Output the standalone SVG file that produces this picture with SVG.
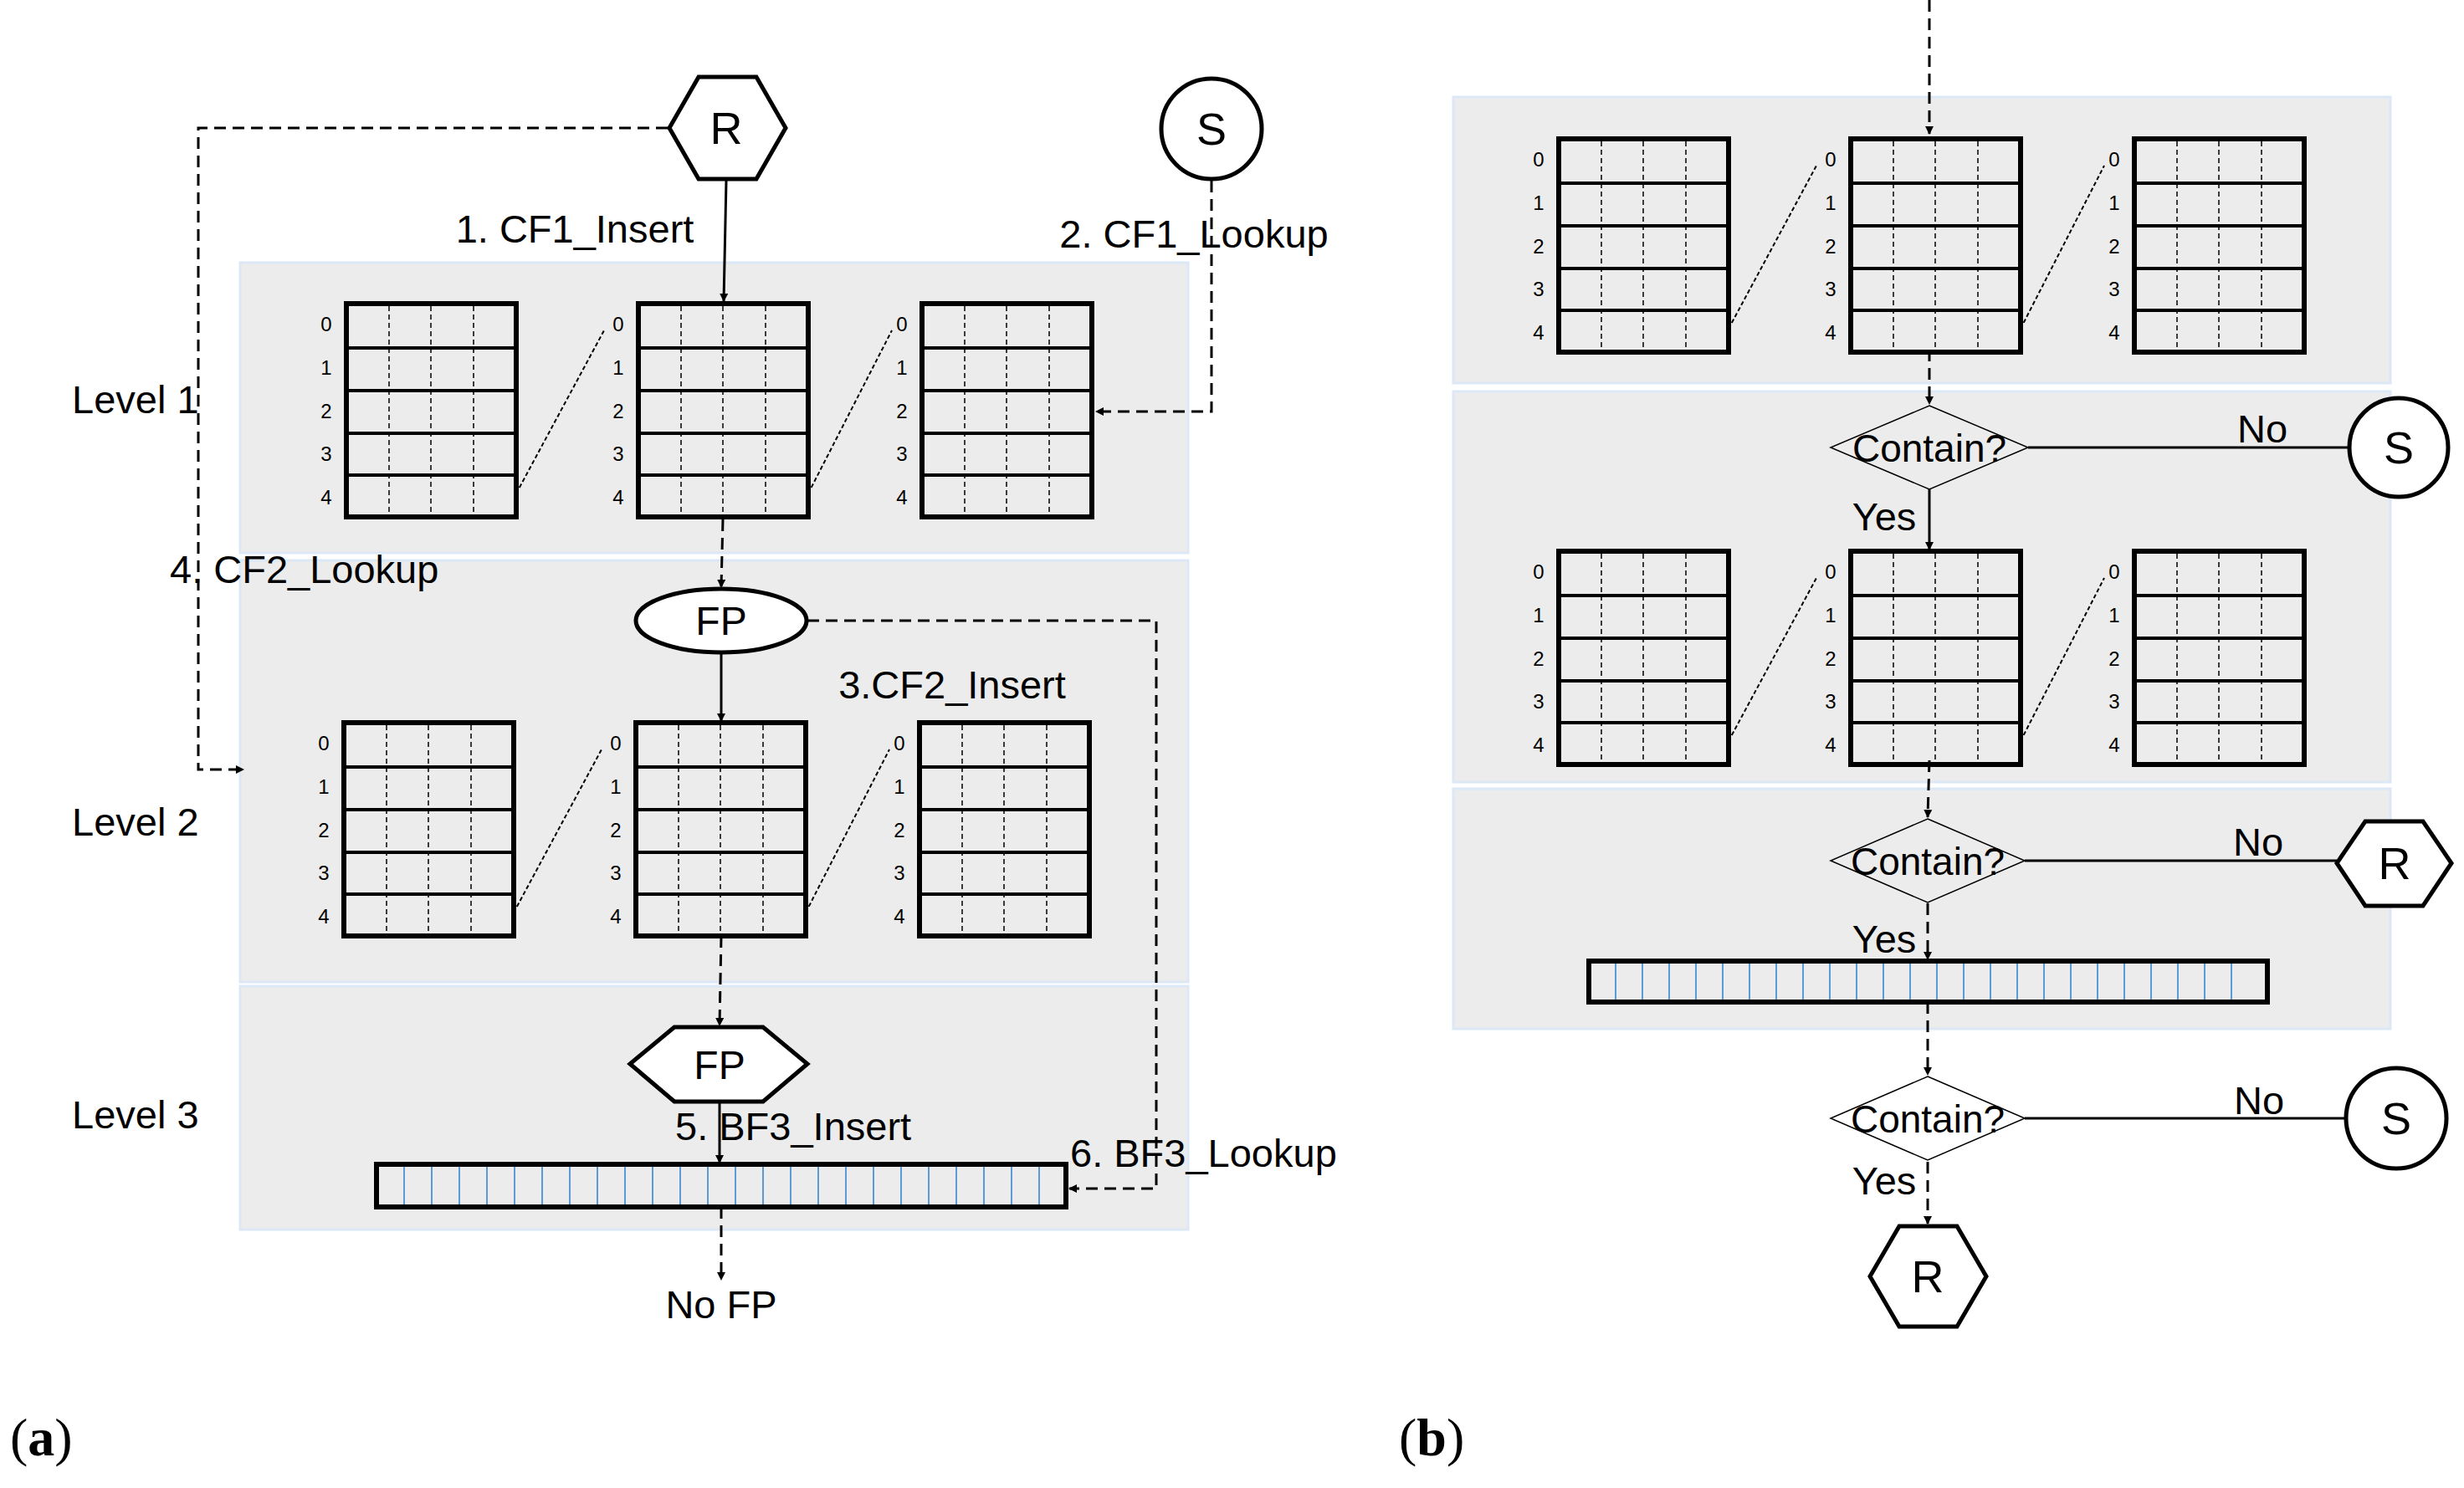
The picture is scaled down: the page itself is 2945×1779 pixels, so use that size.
<svg xmlns="http://www.w3.org/2000/svg" width="2945" height="1779" viewBox="0 0 2945 1779">
<style>
text{font-family:"Liberation Sans",Arial,sans-serif;fill:#000}
.lb{font-size:47px}
.num{font-size:24px;text-anchor:middle}
.band{fill:#ececec;stroke:#dce8f5;stroke-width:3}
.thick{fill:none;stroke:#000;stroke-width:6}
.row{stroke:#000;stroke-width:4}
.col{stroke:#000;stroke-width:1.5;stroke-dasharray:6 4}
.dot{stroke:#000;stroke-width:2;stroke-dasharray:5 3;fill:none}
.sol{stroke:#000;stroke-width:3;fill:none}
.dash{stroke:#000;stroke-width:3;fill:none;stroke-dasharray:14 8}
.bl{stroke:#5b9bd5;stroke-width:2}
.node{fill:#fff;stroke:#000;stroke-width:5}
.dia{fill:none;stroke:#000;stroke-width:1.5}
.cap{font-family:"Liberation Serif",serif;font-size:64px}
</style>
<defs>
<marker id="ah" markerWidth="10" markerHeight="10" refX="9" refY="5" orient="auto" markerUnits="userSpaceOnUse" viewBox="0 0 10 10"><path d="M0,0 L10,5 L0,10 z" fill="#000"/></marker>
<g id="tbl">
<rect x="0" y="0" width="203" height="255" class="thick"/>
<line x1="51" y1="3" x2="51" y2="255" class="col"/>
<line x1="101" y1="3" x2="101" y2="255" class="col"/>
<line x1="152" y1="3" x2="152" y2="255" class="col"/>
<line x1="0" y1="53" x2="203" y2="53" class="row"/>
<line x1="0" y1="104" x2="203" y2="104" class="row"/>
<line x1="0" y1="155" x2="203" y2="155" class="row"/>
<line x1="0" y1="205" x2="203" y2="205" class="row"/>
<text class="num" x="-24" y="33">0</text>
<text class="num" x="-24" y="85">1</text>
<text class="num" x="-24" y="137">2</text>
<text class="num" x="-24" y="188">3</text>
<text class="num" x="-24" y="240">4</text>
</g>
<g id="trio">
<use href="#tbl" x="0" y="0"/>
<use href="#tbl" x="349" y="0"/>
<use href="#tbl" x="688" y="0"/>
<line x1="203" y1="227" x2="308" y2="32" class="dot"/>
<line x1="552" y1="227" x2="652" y2="32" class="dot"/>
</g>
</defs>

<!-- bands -->
<rect class="band" x="287" y="314" width="1133" height="347"/>
<rect class="band" x="287" y="670" width="1133" height="504"/>
<rect class="band" x="287" y="1179" width="1133" height="291"/>
<rect class="band" x="1737" y="116" width="1120" height="342"/>
<rect class="band" x="1737" y="468" width="1120" height="467"/>
<rect class="band" x="1737" y="943" width="1120" height="287"/>

<!-- panel a -->
<g id="tables-a1"><use href="#trio" x="414" y="363"/></g>
<g id="tables-a2"><use href="#trio" x="411" y="864"/></g>
<g id="bf-a">
<rect x="450" y="1392" width="824" height="51" class="thick"/>
<g class="bl">
<line x1="483" y1="1395" x2="483" y2="1440"/><line x1="516" y1="1395" x2="516" y2="1440"/><line x1="549" y1="1395" x2="549" y2="1440"/><line x1="582" y1="1395" x2="582" y2="1440"/><line x1="615" y1="1395" x2="615" y2="1440"/><line x1="648" y1="1395" x2="648" y2="1440"/><line x1="681" y1="1395" x2="681" y2="1440"/><line x1="714" y1="1395" x2="714" y2="1440"/><line x1="747" y1="1395" x2="747" y2="1440"/><line x1="780" y1="1395" x2="780" y2="1440"/><line x1="813" y1="1395" x2="813" y2="1440"/><line x1="846" y1="1395" x2="846" y2="1440"/><line x1="879" y1="1395" x2="879" y2="1440"/><line x1="912" y1="1395" x2="912" y2="1440"/><line x1="945" y1="1395" x2="945" y2="1440"/><line x1="978" y1="1395" x2="978" y2="1440"/><line x1="1011" y1="1395" x2="1011" y2="1440"/><line x1="1044" y1="1395" x2="1044" y2="1440"/><line x1="1077" y1="1395" x2="1077" y2="1440"/><line x1="1110" y1="1395" x2="1110" y2="1440"/><line x1="1143" y1="1395" x2="1143" y2="1440"/><line x1="1176" y1="1395" x2="1176" y2="1440"/><line x1="1209" y1="1395" x2="1209" y2="1440"/><line x1="1242" y1="1395" x2="1242" y2="1440"/>
</g>
</g>
<g id="R-a"><polygon class="node" points="835,92 904,92 939,153 904,214 835,214 800,153"/><text x="868" y="172" font-size="54" text-anchor="middle">R</text></g>
<g id="S-a"><circle class="node" cx="1448" cy="154" r="60"/><text x="1448" y="173" font-size="54" text-anchor="middle">S</text></g>
<g id="FP-ell"><ellipse class="node" cx="862" cy="742" rx="102" ry="38"/><text x="862" y="759" font-size="48" text-anchor="middle">FP</text></g>
<g id="FP-hex"><polygon class="node" points="806,1228 912,1228 965,1272 912,1317 806,1317 753,1272"/><text x="860" y="1290" font-size="48" text-anchor="middle">FP</text></g>

<g id="connectors">
<line class="sol" x1="868" y1="216" x2="865" y2="360" marker-end="url(#ah)"/>
<polyline class="dash" points="1448,216 1448,492 1310,492" marker-end="url(#ah)"/>
<polyline class="dash" points="798,153 237,153 237,920 291,920" marker-end="url(#ah)"/>
<line class="dash" x1="864" y1="621" x2="862" y2="702" marker-end="url(#ah)"/>
<line class="sol" x1="862" y1="780" x2="862" y2="862" marker-end="url(#ah)"/>
<line class="dash" x1="862" y1="1119" x2="860" y2="1226" marker-end="url(#ah)"/>
<line class="sol" x1="860" y1="1317" x2="860" y2="1390" marker-end="url(#ah)"/>
<polyline class="dash" points="965,742 1382,742 1382,1421 1278,1421" marker-end="url(#ah)"/>
<line class="dash" x1="862" y1="1443" x2="862" y2="1530" marker-end="url(#ah)"/>

<line class="dash" x1="2306" y1="0" x2="2306" y2="160" marker-end="url(#ah)"/>
<line class="dash" x1="2306" y1="418" x2="2306" y2="483" marker-end="url(#ah)"/>
<line class="sol" x1="2306" y1="585" x2="2306" y2="657" marker-end="url(#ah)"/>
<line class="sol" stroke-width="2" x1="2424" y1="535" x2="2808" y2="535"/>
<line class="dash" x1="2306" y1="909" x2="2304" y2="977" marker-end="url(#ah)"/>
<line class="dash" x1="2304" y1="1080" x2="2304" y2="1147" marker-end="url(#ah)"/>
<line class="sol" stroke-width="2" x1="2420" y1="1029" x2="2793" y2="1029"/>
<line class="dash" x1="2304" y1="1198" x2="2304" y2="1285" marker-end="url(#ah)"/>
<line class="sol" stroke-width="2" x1="2420" y1="1337" x2="2804" y2="1337"/>
<line class="dash" x1="2304" y1="1389" x2="2304" y2="1463" marker-end="url(#ah)"/>
</g>

<text class="lb" x="687" y="290" text-anchor="middle">1. CF1_Insert</text>
<text class="lb" x="1427" y="296" text-anchor="middle">2. CF1_Lookup</text>
<text class="lb" x="86" y="494">Level 1</text>
<text class="lb" x="203" y="697">4. CF2_Lookup</text>
<text class="lb" x="1138" y="835" text-anchor="middle">3.CF2_Insert</text>
<text class="lb" x="86" y="999">Level 2</text>
<text class="lb" x="86" y="1349">Level 3</text>
<text class="lb" x="807" y="1363">5. BF3_Insert</text>
<text class="lb" x="1279" y="1395">6. BF3_Lookup</text>
<text class="lb" x="862" y="1576" text-anchor="middle">No FP</text>

<!-- panel b -->
<g id="tables-b1"><use href="#trio" x="1863" y="166"/></g>
<g id="tables-b2"><use href="#trio" x="1863" y="659"/></g>
<g id="bf-b">
<rect x="1899" y="1149" width="811" height="49" class="thick"/>
<g class="bl">
<line x1="1931" y1="1152" x2="1931" y2="1195"/><line x1="1963" y1="1152" x2="1963" y2="1195"/><line x1="1995" y1="1152" x2="1995" y2="1195"/><line x1="2027" y1="1152" x2="2027" y2="1195"/><line x1="2059" y1="1152" x2="2059" y2="1195"/><line x1="2091" y1="1152" x2="2091" y2="1195"/><line x1="2123" y1="1152" x2="2123" y2="1195"/><line x1="2155" y1="1152" x2="2155" y2="1195"/><line x1="2187" y1="1152" x2="2187" y2="1195"/><line x1="2219" y1="1152" x2="2219" y2="1195"/><line x1="2251" y1="1152" x2="2251" y2="1195"/><line x1="2283" y1="1152" x2="2283" y2="1195"/><line x1="2315" y1="1152" x2="2315" y2="1195"/><line x1="2347" y1="1152" x2="2347" y2="1195"/><line x1="2379" y1="1152" x2="2379" y2="1195"/><line x1="2411" y1="1152" x2="2411" y2="1195"/><line x1="2443" y1="1152" x2="2443" y2="1195"/><line x1="2475" y1="1152" x2="2475" y2="1195"/><line x1="2507" y1="1152" x2="2507" y2="1195"/><line x1="2539" y1="1152" x2="2539" y2="1195"/><line x1="2571" y1="1152" x2="2571" y2="1195"/><line x1="2603" y1="1152" x2="2603" y2="1195"/><line x1="2635" y1="1152" x2="2635" y2="1195"/><line x1="2667" y1="1152" x2="2667" y2="1195"/>
</g>
</g>
<g id="d1"><polygon class="dia" points="2306,485 2424,535 2306,585 2188,535"/><text x="2306" y="552" font-size="46" text-anchor="middle">Contain?</text></g>
<g id="d2"><polygon class="dia" points="2304,979 2420,1029 2304,1079 2188,1029"/><text x="2304" y="1046" font-size="46" text-anchor="middle">Contain?</text></g>
<g id="d3"><polygon class="dia" points="2304,1287 2420,1337 2304,1387 2188,1337"/><text x="2304" y="1354" font-size="46" text-anchor="middle">Contain?</text></g>
<g id="S-b1"><circle class="node" cx="2867" cy="535" r="59"/><text x="2867" y="554" font-size="54" text-anchor="middle">S</text></g>
<g id="R-b1"><polygon class="node" points="2827,982 2896,982 2930,1032 2896,1083 2827,1083 2793,1032"/><text x="2862" y="1051" font-size="54" text-anchor="middle">R</text></g>
<g id="S-b2"><circle class="node" cx="2864" cy="1337" r="60"/><text x="2864" y="1356" font-size="54" text-anchor="middle">S</text></g>
<g id="R-b2"><polygon class="node" points="2270,1466 2339,1466 2374,1526 2339,1586 2270,1586 2235,1526"/><text x="2304" y="1545" font-size="54" text-anchor="middle">R</text></g>
<text class="lb" x="2704" y="529" text-anchor="middle">No</text>
<text class="lb" x="2252" y="634" text-anchor="middle">Yes</text>
<text class="lb" x="2699" y="1023" text-anchor="middle">No</text>
<text class="lb" x="2252" y="1139" text-anchor="middle">Yes</text>
<text class="lb" x="2700" y="1332" text-anchor="middle">No</text>
<text class="lb" x="2252" y="1428" text-anchor="middle">Yes</text>

<text class="cap" x="12" y="1740">(<tspan font-weight="bold">a</tspan>)</text>
<text class="cap" x="1672" y="1740">(<tspan font-weight="bold">b</tspan>)</text>
</svg>
